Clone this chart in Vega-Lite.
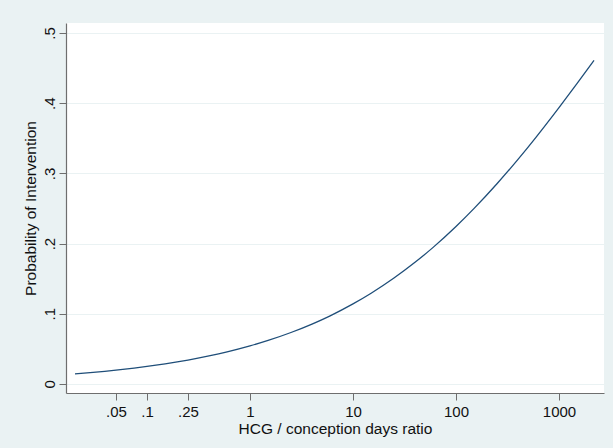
{
  "$schema": "https://vega.github.io/schema/vega-lite/v6.json",
  "width": 538,
  "height": 370,
  "autosize": {"type": "none"},
  "padding": {"left": 66, "top": 23, "right": 9, "bottom": 55},
  "background": "#EAF2F3",
  "config": {
    "view": {"stroke": null, "fill": "white"},
    "font": "Liberation Sans",
    "axis": {
      "labelFont": "Liberation Sans",
      "titleFont": "Liberation Sans",
      "labelFontSize": 15,
      "titleFontSize": 15.5,
      "titleFontWeight": "normal",
      "labelColor": "#111111",
      "titleColor": "#111111",
      "domainColor": "#6e6e6e",
      "tickColor": "#6e6e6e",
      "tickSize": 7,
      "domainWidth": 1.2,
      "tickWidth": 1
    }
  },
  "data": {
    "values": [
      {"ratio": 0.02, "p": 0.0143},
      {"ratio": 0.03, "p": 0.0164},
      {"ratio": 0.05, "p": 0.0196},
      {"ratio": 0.075, "p": 0.0226},
      {"ratio": 0.1, "p": 0.0249},
      {"ratio": 0.15, "p": 0.0286},
      {"ratio": 0.25, "p": 0.0340},
      {"ratio": 0.4, "p": 0.0399},
      {"ratio": 0.6, "p": 0.0457},
      {"ratio": 1, "p": 0.0542},
      {"ratio": 1.5, "p": 0.0620},
      {"ratio": 2.5, "p": 0.0733},
      {"ratio": 4, "p": 0.0853},
      {"ratio": 6, "p": 0.0971},
      {"ratio": 10, "p": 0.1141},
      {"ratio": 15, "p": 0.1293},
      {"ratio": 25, "p": 0.1509},
      {"ratio": 40, "p": 0.1733},
      {"ratio": 60, "p": 0.1946},
      {"ratio": 100, "p": 0.2243},
      {"ratio": 150, "p": 0.2501},
      {"ratio": 250, "p": 0.2852},
      {"ratio": 400, "p": 0.3200},
      {"ratio": 600, "p": 0.3518},
      {"ratio": 1000, "p": 0.3938},
      {"ratio": 1500, "p": 0.4282},
      {"ratio": 2188, "p": 0.4610}
    ]
  },
  "mark": {"type": "line", "color": "#1F4E79", "strokeWidth": 1.3, "interpolate": "monotone"},
  "encoding": {
    "x": {
      "field": "ratio",
      "type": "quantitative",
      "scale": {"type": "log", "domain": [0.01636, 2735], "nice": false},
      "axis": {
        "title": "HCG / conception days ratio",
        "values": [0.05, 0.1, 0.25, 1, 10, 100, 1000],
        "labelExpr": "datum.value < 1 ? substring(toString(datum.value), 1) : toString(datum.value)",
        "grid": false,
        "labelPadding": 4,
        "titlePadding": 2,
        "labelFlush": false
      }
    },
    "y": {
      "field": "p",
      "type": "quantitative",
      "scale": {"domain": [-0.0129, 0.5143], "nice": false, "zero": false},
      "axis": {
        "title": "Probability of Intervention",
        "values": [0, 0.1, 0.2, 0.3, 0.4, 0.5],
        "labelExpr": "datum.value == 0 ? '0' : substring(format(datum.value, '.1f'), 1)",
        "labelAngle": -90,
        "labelAlign": "center",
        "labelBaseline": "bottom",
        "grid": true,
        "gridColor": "#EAF2F3",
        "gridWidth": 1,
        "labelPadding": 2,
        "titlePadding": 4,
        "labelFlush": false
      }
    }
  }
}
